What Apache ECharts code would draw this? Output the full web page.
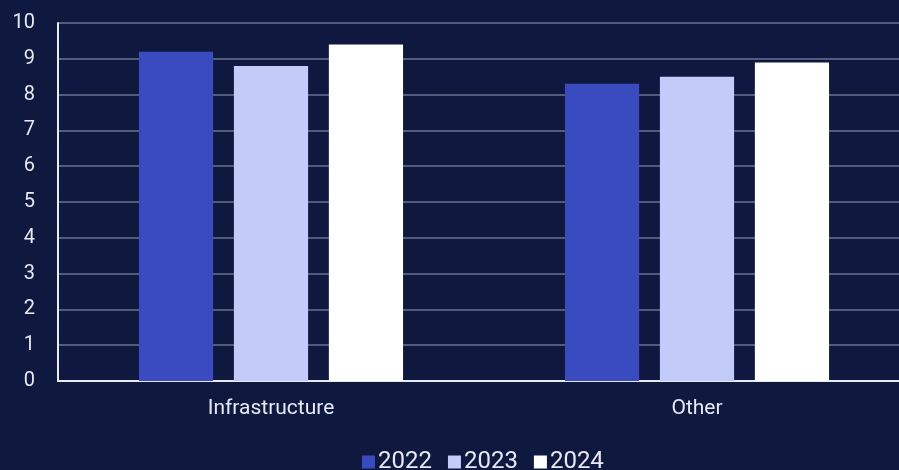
<!DOCTYPE html>
<html><head><meta charset="utf-8">
<script src="https://cdn.jsdelivr.net/npm/echarts@6/dist/echarts.min.js"></script>
<style>html,body{margin:0;padding:0;background:#0f1940;overflow:hidden;}#c{width:910px;height:470px;}</style>
</head><body><div id="c"></div>
<script>
const categories = ['Infrastructure', 'Other'];
const seriesNames = ['2022', '2023', '2024'];
const values2022 = [9.2, 8.3];
const values2023 = [8.8, 8.5];
const values2024 = [9.4, 8.9];
const colors = ['#3a4bbf', '#c3cbf9', '#ffffff'];
const chart = echarts.init(document.getElementById('c'), null, {renderer: 'canvas'});
const data = [values2022, values2023, values2024];
chart.setOption({
  backgroundColor: '#0f1940',
  animation: false,
  legend: {
    top: 450, left: 362, padding: 0,
    icon: 'rect', itemWidth: 13, itemHeight: 13, itemGap: 16,
    textStyle: {color: '#e6e9f2', fontSize: 24, fontFamily: 'Roboto', padding: [0, 0, 0, -2]},
    data: seriesNames
  },
  grid: {left: 58, right: 0, top: 23, bottom: 89, containLabel: false},
  xAxis: {
    type: 'category', data: categories,
    axisLine: {lineStyle: {color: '#e8eaf2', width: 2}},
    axisTick: {show: false},
    axisLabel: {color: '#e6e9f2', fontSize: 21, fontFamily: 'Roboto', margin: 17}
  },
  yAxis: {
    type: 'value', min: 0, max: 10, interval: 1,
    axisLine: {show: true, lineStyle: {color: '#e8eaf2', width: 2}},
    axisTick: {show: false},
    splitLine: {lineStyle: {color: '#6b7290', width: 1.5}},
    axisLabel: {color: '#e6e9f2', fontSize: 20, fontFamily: 'Roboto', margin: 23}
  },
  series: seriesNames.map((n, i) => ({
    name: n, type: 'bar', data: data[i],
    barGap: '28%', barCategoryGap: '38%',
    itemStyle: {color: colors[i]}
  }))
});
</script></body></html>
